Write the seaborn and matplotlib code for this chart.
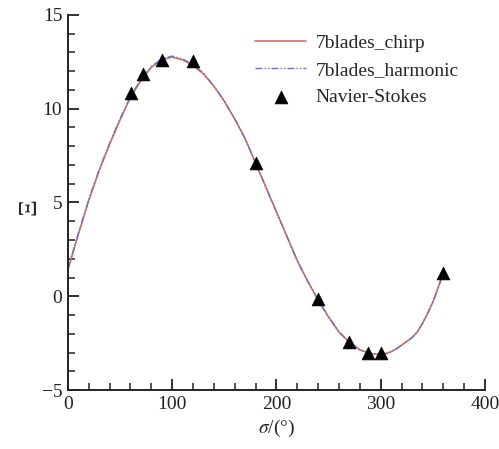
import numpy as np
import matplotlib
matplotlib.use("Agg")
import matplotlib.pyplot as plt
import pandas as pd
import seaborn as sns
from matplotlib.ticker import MultipleLocator

# curve values (10 deg steps, 5 deg near the steep end)
sigma = [0, 10, 20, 30, 40, 50, 60, 70, 80, 90, 100, 110, 120, 130, 140, 150, 160, 170, 180,
         190, 200, 210, 220, 230, 240, 250, 260, 270, 280, 290, 300, 305, 310, 315, 320, 325,
         330, 335, 340, 345, 350, 355, 360]
chirp = [1.4, 3.3, 5.1, 6.7, 8.1, 9.4, 10.6, 11.5, 12.2, 12.6, 12.75, 12.6, 12.3, 11.85, 11.2, 10.4,
         9.45, 8.4, 7.1, 5.8, 4.5, 3.2, 1.9, 0.8, -0.2, -1.1, -1.9, -2.45, -2.85, -3.05, -3.1, -3.05,
         -2.95, -2.8, -2.6, -2.4, -2.2, -1.9, -1.45, -0.9, -0.3, 0.45, 1.25]
harmonic = [1.45, 3.35, 5.15, 6.75, 8.15, 9.45, 10.65, 11.55, 12.25, 12.65, 12.8, 12.65, 12.35, 11.9,
            11.2, 10.4, 9.45, 8.4, 7.1, 5.8, 4.5, 3.2, 1.9, 0.8, -0.2, -1.1, -1.9, -2.45, -2.85, -3.05,
            -3.1, -3.05, -2.95, -2.8, -2.6, -2.4, -2.2, -1.9, -1.45, -0.9, -0.3, 0.45, 1.25]

# Navier-Stokes points
ns_sigma = [61, 72, 90, 120, 180, 240, 270, 288, 300, 360]
ns_val = [10.85, 11.85, 12.6, 12.55, 7.1, -0.15, -2.45, -3.0, -3.0, 1.25]

sns.set_style("ticks")
plt.rcParams['font.family'] = ['Liberation Serif', 'DejaVu Serif']
plt.rcParams['mathtext.fontset'] = 'stix'

df = pd.DataFrame({'sigma': sigma, 'chirp': chirp, 'harmonic': harmonic})
ns = pd.DataFrame({'sigma': ns_sigma, 'val': ns_val})

fig = plt.figure(figsize=(4.99, 4.49), dpi=100)
ax = fig.add_axes([0.136, 0.131, 0.836, 0.836])

sns.lineplot(data=df, x='sigma', y='chirp', ax=ax, color='#d8705a', lw=1.2,
             label='7blades_chirp')
sns.lineplot(data=df, x='sigma', y='harmonic', ax=ax, color='#6a72c4', lw=1.0,
             linestyle=(0, (5, 1.5, 1, 1.5, 1, 1.5)), label='7blades_harmonic')
sns.scatterplot(data=ns, x='sigma', y='val', ax=ax, marker='^', color='black',
                s=85, edgecolor='black', linewidth=0.5, label='Navier-Stokes', zorder=5)

ax.set_xlim(0, 400)
ax.set_ylim(-5, 15)
ax.xaxis.set_major_locator(MultipleLocator(100))
ax.xaxis.set_minor_locator(MultipleLocator(20))
ax.yaxis.set_major_locator(MultipleLocator(5))
ax.yaxis.set_minor_locator(MultipleLocator(1))
ax.tick_params(which='major', direction='in', length=8, width=1.3, labelsize=14,
               colors='#222222', pad=4)
ax.tick_params(which='minor', direction='in', length=5, width=1.1, colors='#222222')
sns.despine(ax=ax)
for s in ['left', 'bottom']:
    ax.spines[s].set_linewidth(1.4)
    ax.spines[s].set_color('#222222')

ax.set_xlabel(r'$\sigma$/(°)', fontsize=14, labelpad=4)
ax.set_ylabel('Ξ', fontsize=19)
ax.yaxis.set_label_coords(-0.065, 0.49)

ax.legend(loc='upper right', bbox_to_anchor=(0.97, 0.985), frameon=False, fontsize=14,
          handlelength=2.6, handletextpad=0.5, labelspacing=0.5, borderaxespad=0.3)

fig.savefig('out.png', dpi=100)
